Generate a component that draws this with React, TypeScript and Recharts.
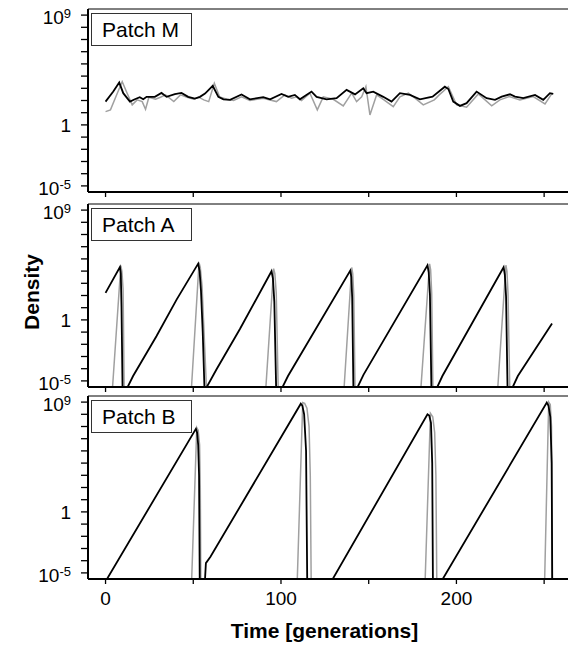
import { LineChart, Line, XAxis, YAxis, ReferenceLine } from "recharts";

const FONT = '"Liberation Sans", Arial, Helvetica, sans-serif';

// density is stored as log10; BELOW marks a density under the plotted range
const BELOW = -8;

const timeTicks = [0, 50, 100, 150, 200, 250];
const timeLabels = [0, 100, 200];
const decadeTicks = [-5, -4, -3, -2, -1, 0, 1, 2, 3, 4, 5, 6, 7, 8, 9];
const labelledDecades = [9, 0, -5];

// Patch M
const patchMBlackT = [
  0, 4.4, 7.8, 10.1, 13.9, 16.7, 19.5, 21.5, 23.4, 28.1, 31.9, 34.8, 39.5, 43.3,
  47.1, 50.9, 53.8, 56.7, 61.1, 64.3, 67.2, 71, 77.5, 82.3, 89.9, 93.8, 100.3,
  104.1, 107.9, 110.8, 117.4, 120.3, 126, 131.7, 137.4, 142.2, 146.9, 148.8,
  152.6, 158.3, 163, 167.8, 173.5, 179.2, 186.4, 193.4, 195.4, 198.2, 202, 205.8,
  211.5, 217.2, 222, 225.8, 230.5, 233.4, 238.1, 244.8, 249.5, 253.3, 255.2,
];
const patchMBlack = [
  1.91, 2.73, 3.47, 2.6, 1.91, 2.1, 2.27, 2.1, 2.3, 2.3, 2.62, 2.3, 2.52, 2.62,
  2.3, 2.16, 2.3, 2.57, 3.2, 2.3, 2.1, 2.05, 2.5, 2.1, 2.27, 2.1, 2.53, 2.3,
  2.46, 2.1, 2.73, 2.3, 2.1, 2.19, 2.87, 2.5, 3.0, 2.6, 2.73, 2.3, 1.91, 2.6,
  2.46, 2.1, 2.32, 3.13, 2.94, 1.91, 1.56, 1.78, 2.73, 2.19, 2.05, 2.32, 2.51,
  2.32, 2.19, 2.46, 2.05, 2.6, 2.54,
];
const patchMGrayT = [
  0, 2.8, 6.7, 9.5, 12.3, 15.2, 18, 20.9, 22.8, 24.7, 28.5, 31.3, 34.2, 38.9,
  42.7, 46.5, 50.3, 53.1, 56, 58.8, 62, 65, 69.2, 73, 77.5, 82.3, 89.9, 97.4,
  102.2, 106, 108.9, 111.7, 116.5, 120.7, 124.1, 129.8, 135.5, 140.3, 143.1, 146,
  148.4, 150.7, 154.5, 158.3, 164, 167.8, 172.6, 176.4, 181.1, 187.4, 190.2,
  195.4, 200.1, 205.8, 212.5, 220.1, 224.8, 230.1, 236.2, 243.8, 250.5, 254.3,
];
const patchMGray = [
  1.09, 1.23, 2.6, 3.55, 2.6, 1.64, 2.05, 1.91, 1.28, 2.27, 2.1, 2.27, 2.46,
  1.91, 2.46, 2.27, 2.1, 2.27, 2.05, 1.91, 3.41, 2.3, 2.1, 2.0, 2.3, 2.0, 2.19,
  1.91, 2.46, 2.19, 2.3, 2.0, 2.6, 1.23, 2.3, 2.1, 1.56, 2.6, 1.91, 2.3, 3.14,
  0.82, 2.46, 2.1, 1.5, 2.3, 2.6, 2.19, 1.64, 2.05, 2.46, 3.13, 1.64, 1.45,
  2.54, 1.56, 2.05, 2.32, 2.05, 2.32, 1.72, 2.54,
];

// Patch A
const patchABlackT = [
  0, 8.2, 8.7, 9.1, 9.9, 12.2, 12.6, 15.7, 29, 40.5, 52.8, 53.6, 54.4, 55.4,
  56.9, 57.2, 57.7, 63.2, 76.6, 94.6, 95.4, 96.2, 97.6, 100.4, 100.9, 104, 139.5,
  140.1, 140.6, 141.5, 143.2, 143.7, 147, 183.5, 184.2, 184.9, 186.0, 188.6,
  189.1, 192, 226.9, 227.6, 228.3, 229.4, 231.6, 232.1, 235, 240, 254.5,
];
const patchABlack = [
  2.21, 4.34, 3.8, 1.1, BELOW, BELOW, -5.5, -4.6, -1.34, 1.66, 4.61, 4.0, 2.4,
  -1.0, BELOW, BELOW, -5.5, -4.07, -0.75, 3.99, 3.4, 1.5, BELOW, BELOW, -5.5,
  -4.6, 4.04, 3.5, 1.8, BELOW, BELOW, -5.5, -4.5, 4.48, 3.9, 2.1, BELOW, BELOW,
  -5.5, -4.6, 4.32, 3.7, 1.9, BELOW, BELOW, -5.5, -4.6, -3.5, -0.3,
];
const patchAGrayT = [
  0, 4.0, 8.7, 9.3, 10.0, 10.6, 11.0, 48.6, 49.0, 53.3, 54.0, 55.0, 57.5, 58,
  91.0, 91.4, 95.8, 96.5, 97.3, 98.4, 99, 135.6, 136, 140.3, 140.9, 141.5, 142.2,
  143, 179.4, 179.8, 184.7, 185.3, 185.9, 186.6, 187, 223.2, 223.6, 228.2, 228.8,
  229.4, 230.4, 231, 256,
];
const patchAGray = [
  BELOW, -5.5, 4.44, 4.0, 2.5, -5.5, BELOW, BELOW, -5.5, 4.7, 4.3, 2.8, -5.5,
  BELOW, BELOW, -5.5, 4.2, 3.8, 2.2, -5.5, BELOW, BELOW, -5.5, 4.3, 3.8, 2.0,
  -5.5, BELOW, BELOW, -5.5, 4.6, 4.1, 2.2, -5.5, BELOW, BELOW, -5.5, 4.48, 4.0,
  2.2, -5.5, BELOW, BELOW,
];

// Patch B
const patchBBlackT = [
  0, 51.5, 52.2, 52.8, 53.3, 53.8, 56.2, 56.7, 57.2, 59.8, 111.3, 112.2, 113.2,
  114.3, 115.1, 129.2, 129.5, 183.5, 184.5, 185.5, 186.2, 186.7, 191.9, 192.2,
  251.5, 252.5, 253.5, 254.3, 254.7,
];
const patchBBlack = [
  -5.7, 6.81, 6.5, 5.5, 3.0, BELOW, BELOW, -5.5, -4.2, -3.68, 8.87, 8.7, 8.0,
  5.0, BELOW, BELOW, -5.5, 8.0, 7.9, 7.3, 4.0, BELOW, BELOW, -5.5, 8.96, 8.7,
  7.8, 4.0, BELOW,
];
const patchBGrayT = [
  0, 48.7, 49.1, 52.0, 52.8, 53.6, 54.0, 54.3, 54.6, 109, 109.3, 112.4, 113.5,
  114.8, 116.0, 116.7, 117.2, 117.6, 181.8, 182.2, 185.2, 186.5, 187.6, 188.3,
  188.8, 189.2, 250, 250.3, 252.6, 253.5, 254.2, 254.5, 255,
];
const patchBGray = [
  BELOW, BELOW, -5.5, 6.9, 6.7, 5.5, 2.0, -5.5, BELOW, BELOW, -5.5, 8.96, 8.9,
  8.5, 7.0, 3.0, -5.5, BELOW, BELOW, -5.5, 8.08, 7.8, 6.5, 3.0, -5.5, BELOW,
  BELOW, -5.5, 9.0, 8.8, 7.0, -5.5, BELOW,
];

const zip = (ts: number[], vs: number[]) => ts.map((t, i) => ({ t, v: vs[i] }));

const DecadeTick = (props: any) => {
  const { x, y, payload } = props;
  const v = payload.value;
  if (!labelledDecades.includes(v)) return <g />;
  const style = { fill: "#000", fontFamily: FONT };
  if (v === 0) {
    return (
      <text x={x} y={y + 7} textAnchor="end" fontSize={19} style={style}>
        1
      </text>
    );
  }
  return (
    <text x={x} y={y + 9} textAnchor="end" fontSize={19} style={style}>
      10
      <tspan dy={-6} fontSize={13}>
        {v}
      </tspan>
    </text>
  );
};

interface PanelProps {
  top: number;
  name: string;
  black: { t: number; v: number }[];
  gray: { t: number; v: number }[];
  showTimeLabels?: boolean;
}

// top = page y of the panel's upper frame line
const Panel = ({ top, name, black, gray, showTimeLabels = false }: PanelProps) => {
  const axisHeight = showTimeLabels ? 30 : 10;
  return (
    <>
      <div style={{ position: "absolute", left: 8, top: top - 10 }}>
        <LineChart
          width={620}
          height={10 + 183 + axisHeight}
          margin={{ top: 10, right: 40, bottom: 0, left: 0 }}
        >
          <XAxis
            type="number"
            dataKey="t"
            domain={[-10, 275]}
            allowDataOverflow
            ticks={timeTicks}
            interval={0}
            height={axisHeight}
            tickSize={5}
            tickMargin={8}
            axisLine={{ stroke: "#000", strokeWidth: 2 }}
            tickLine={{ stroke: "#000", strokeWidth: 1.3 }}
            tick={{ fill: "#000", fontSize: 19, fontFamily: FONT }}
            tickFormatter={(v: number) =>
              showTimeLabels && timeLabels.includes(v) ? String(v) : ""
            }
          />
          <YAxis
            type="number"
            domain={[-5.5, 9.5]}
            allowDataOverflow
            ticks={decadeTicks}
            interval={0}
            width={80}
            tickSize={7}
            tickMargin={10}
            axisLine={{ stroke: "#000", strokeWidth: 2 }}
            tickLine={{ stroke: "#000", strokeWidth: 1.3 }}
            tick={(p: any) => <DecadeTick {...p} />}
          />
          <ReferenceLine y={9.5} stroke="#000" strokeWidth={1} />
          <Line
            data={gray}
            dataKey="v"
            type="linear"
            stroke="#a0a0a0"
            strokeWidth={1.5}
            dot={false}
            isAnimationActive={false}
          />
          <Line
            data={black}
            dataKey="v"
            type="linear"
            stroke="#000"
            strokeWidth={1.8}
            dot={false}
            isAnimationActive={false}
          />
        </LineChart>
      </div>
      <div
        style={{
          position: "absolute",
          left: 91,
          top: top + 3.6,
          width: 101,
          height: 33,
          boxSizing: "border-box",
          border: "1.5px solid #333",
          background: "#fff",
          paddingLeft: 10,
          paddingTop: 1,
          fontFamily: FONT,
          fontSize: 21,
          lineHeight: "30px",
          color: "#000",
          whiteSpace: "nowrap",
        }}
      >
        {name}
      </div>
    </>
  );
};

export default function App() {
  return (
    <div style={{ position: "relative", width: 568, height: 645 }}>
      <style>{"body { margin: 0; }"}</style>
      <div
        style={{
          position: "absolute",
          left: 0,
          top: 0,
          width: 568,
          height: 645,
          overflow: "hidden",
        }}
      >
        <Panel
          top={9.1}
          name="Patch M"
          black={zip(patchMBlackT, patchMBlack)}
          gray={zip(patchMGrayT, patchMGray)}
        />
        <Panel
          top={204.4}
          name="Patch A"
          black={zip(patchABlackT, patchABlack)}
          gray={zip(patchAGrayT, patchAGray)}
        />
        <Panel
          top={396.1}
          name="Patch B"
          black={zip(patchBBlackT, patchBBlack)}
          gray={zip(patchBGrayT, patchBGray)}
          showTimeLabels
        />
      </div>
      <div
        style={{
          position: "absolute",
          left: 31,
          top: 291.5,
          transform: "translate(-50%, -50%) rotate(-90deg)",
          fontFamily: FONT,
          fontWeight: "bold",
          fontSize: 21,
          lineHeight: "21px",
          whiteSpace: "nowrap",
        }}
      >
        Density
      </div>
      <div
        style={{
          position: "absolute",
          left: 324.5,
          top: 619.5,
          transform: "translateX(-50%)",
          fontFamily: FONT,
          fontWeight: "bold",
          fontSize: 21,
          lineHeight: "21px",
          whiteSpace: "nowrap",
        }}
      >
        Time [generations]
      </div>
    </div>
  );
}
